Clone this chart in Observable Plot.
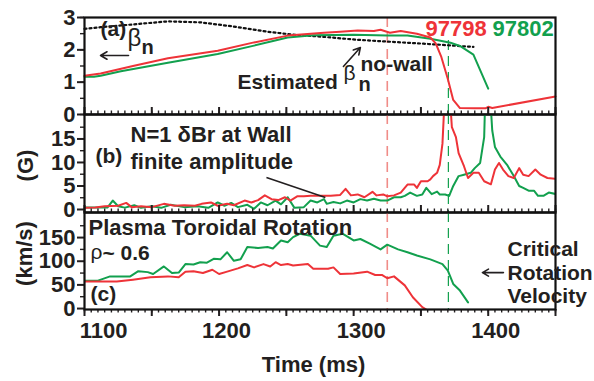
<!DOCTYPE html>
<html><head><meta charset="utf-8">
<script src="https://cdn.jsdelivr.net/npm/d3@7"></script>
<script src="https://cdn.jsdelivr.net/npm/@observablehq/plot@0.6"></script>
<style>
body{margin:0;background:#fff;}
#chart{position:relative;width:594px;height:381px;overflow:hidden;background:#fff;}
#chart svg{position:absolute;left:0;top:0;}
</style></head><body><div id="chart"></div>
<script>
// ---------- data ----------
const shots = ["97798", "97802"];
const markerTimes = [1325, 1370.4];
const xTickLabels = [1100, 1200, 1300, 1400];
const yTicksA = [0, 1, 2, 3];
const yTicksB = [0, 5, 10, 15];
const yTicksC = [0, 50, 100, 150];

// (a) beta_n
const betaRedT = [1100,1112,1136,1162,1199,1226,1251,1278,1290,1303,1315,1320,1327,1335,1347,1357,1361,1365,1370,1374,1379,1390,1398,1400,1403,1450];
const betaRedV = [1.2,1.27,1.5,1.74,1.97,2.23,2.44,2.53,2.56,2.6,2.58,2.62,2.53,2.58,2.5,2.38,2.2,1.8,1.1,0.45,0.2,0.19,0.19,0.24,0.2,0.56];
const betaGreenT = [1100,1107,1112,1127,1162,1199,1226,1251,1270,1300,1325,1340,1357,1372,1379,1389,1400];
const betaGreenV = [1.17,1.17,1.2,1.34,1.6,1.87,2.13,2.38,2.45,2.47,2.44,2.44,2.34,2.22,2.12,1.85,0.8];
const betaNoWallT = [1100,1112,1140,1162,1186,1211,1236,1255,1278,1303,1327,1352,1389];
const betaNoWallV = [2.65,2.7,2.8,2.88,2.85,2.72,2.56,2.47,2.4,2.31,2.25,2.19,2.09];

// (b) N=1 dBr at wall (G)
const brRedT = [1100,1108,1115,1125,1131,1135,1142,1150,1159,1167,1174,1182,1187,1194,1199,1206,1211,1219,1224,1229,1234,1239,1244,1249,1253,1258,1263,1268,1273,1278,1283,1290,1294,1298,1303,1308,1314,1317,1322,1325,1330,1335,1340,1345,1347,1350,1355,1357,1359,1362,1364,1366,1368,1371,1373,1376,1378,1382,1385,1389,1393,1397,1402,1405,1408,1411,1415,1419,1423,1426,1430,1435,1439,1444,1450];
const brRedV = [0.35,0.4,0.7,0.8,1.4,0.5,0.7,0.5,1.2,0.8,0.9,0.8,1.2,1.5,0.8,1.2,0.9,1.9,1.5,2.0,3.0,2.2,2.0,2.6,1.9,2.8,2.8,2.9,2.9,2.9,2.9,3.1,4.4,3.0,3.2,2.6,3.75,3.0,3.2,2.8,3.0,3.6,5.3,5.3,4.6,6.0,6.0,6.4,7.1,7.8,9.5,14,26,26,17.5,15.4,12,9.2,6.7,7.8,7.8,6.0,5.35,8.5,9.9,8.5,7.1,6.7,8.8,7.4,7.1,8.5,7.4,6.7,6.5];
const brGreenT = [1100,1110,1117,1121,1125,1130,1137,1142,1150,1157,1164,1174,1184,1192,1199,1204,1209,1214,1221,1226,1231,1236,1242,1246,1251,1256,1263,1268,1273,1278,1280,1285,1290,1295,1300,1305,1310,1315,1320,1325,1330,1335,1338,1342,1347,1351,1354,1358,1362,1364,1368,1371,1374,1378,1382,1387,1390,1394,1397,1398,1401,1403,1405,1409,1414,1419,1423,1426,1430,1434,1437,1441,1445,1450];
const brGreenV = [0.4,0.4,0.4,1.9,0.7,0.4,0.9,0.35,0.7,0.35,1.0,0.5,0.7,0.35,1.5,0.8,1.4,0.5,1.0,0.15,1.5,0.9,1.9,1.1,2.6,0.35,0.5,1.9,1.5,2.2,1.2,1.6,1.3,1.9,1.5,2.2,1.9,2.3,1.9,1.9,2.6,2.6,2.9,3.6,2.9,3.2,4.6,3.25,3.8,3.2,3.2,2.9,5.0,7.1,7.4,7.8,8.8,9.9,15.4,26,26,16.8,13.3,11.25,9.5,7.1,5.0,4.6,4.0,4.0,2.9,2.9,3.6,3.3];

// (c) plasma toroidal rotation (km/s)
const rotRedT = [1100,1124,1136,1149,1162,1170,1175,1181,1188,1195,1200,1206,1214,1221,1226,1233,1238,1242,1246,1251,1255,1266,1270,1281,1285,1290,1300,1310,1316,1321,1325,1330,1338,1344,1351,1354];
const rotRedV = [57,57,61,66,68,66,78,79,75,82,73,78,85,92,87,94,89,98,92,94,91,94,84,84,87,73,74,78,71,71,64,68,49,24,3,-2];
const rotGreenT = [1100,1110,1119,1127,1134,1140,1147,1151,1159,1165,1170,1175,1181,1186,1191,1196,1201,1206,1211,1216,1221,1229,1236,1240,1246,1251,1255,1260,1268,1275,1280,1285,1292,1300,1305,1312,1320,1325,1333,1340,1347,1357,1366,1370,1374,1379,1385];
const rotGreenV = [59,59,68,68,68,79,77,73,89,75,76,94,93,98,97,105,104,119,101,104,130,128,130,127,144,140,151,158,154,133,130,154,158,144,147,137,125,135,125,119,112,104,94,80,52,38,13];

// ---------- drawing ----------
const RED = "#ee3338", GREEN = "#12a04e", INK = "#231f20", RED_DASH = "#f08c88";
const FONT = "'Liberation Sans', Arial, Helvetica, sans-serif";
const W = 594, H = 381, ML = 84, MR = 39;
const zip = (t, v) => t.map((d, i) => ({t: d, v: v[i]}));
const plain = d => String(d);

function label(txt, o) {
  const size = o.size ?? 22;
  return Plot.text([txt], {
    text: d => d, frameAnchor: o.anchor ?? "top-left", textAnchor: o.ta ?? "start", lineAnchor: "middle",
    dx: o.dx, dy: o.dy ?? (o.base - 0.32 * size), fontSize: size, fontWeight: o.weight ?? "bold",
    fill: o.fill ?? INK, rotate: o.rotate ?? 0, fontFamily: FONT
  });
}
function xTicks(dir) {
  return [
    Plot.axisX({ticks: d3.range(1100, 1451, 5), tickSize: 3.5 * dir, tickFormat: () => "", strokeWidth: 1.4}),
    Plot.axisX({ticks: d3.range(1100, 1451, 50), tickSize: 7 * dir, tickFormat: () => "", strokeWidth: 2})
  ];
}
function yTicks(major, minor) {
  return [
    Plot.axisY({ticks: minor, tickSize: 4, tickFormat: () => "", strokeWidth: 1.4}),
    Plot.axisY({ticks: major, tickSize: 7, tickPadding: 2, strokeWidth: 2, fontSize: 22, tickFormat: plain})
  ];
}
function panel(top, bottom, yDomain, marks) {
  return Plot.plot({
    width: W, height: H, marginLeft: ML, marginRight: MR, marginTop: top, marginBottom: H - bottom,
    x: {domain: [1100, 1450], axis: null},
    y: {domain: yDomain, axis: null},
    style: {background: "transparent", overflow: "visible", fontFamily: FONT, fontSize: "22px", fontWeight: "bold", color: INK},
    marks
  });
}
const dashLines = (y1, y2g) => [
  Plot.ruleX([markerTimes[0]], {x: d => d, stroke: RED_DASH, strokeWidth: 1.6, strokeDasharray: "10,6"}),
  Plot.ruleX([markerTimes[1]], {x: d => d, y1: y2g ? y1 : undefined, y2: y2g, stroke: GREEN, strokeWidth: 1.2, strokeDasharray: "10,6"})
];

// panel (a)
const arrowsA = [{x1: 1132.7, y1: 1.825, x2: 1111.9, y2: 1.825}, {x1: 1292.4, y1: 1.485, x2: 1305, y2: 2.07}];
const pA = panel(17, 114, [0, 3], [
  ...dashLines(0, 2.4),
  Plot.line(zip(betaNoWallT, betaNoWallV), {x: "t", y: "v", stroke: "#111", strokeWidth: 2.2, strokeDasharray: "2,3"}),
  Plot.line(zip(betaGreenT, betaGreenV), {x: "t", y: "v", stroke: GREEN, strokeWidth: 2}),
  Plot.line(zip(betaRedT, betaRedV), {x: "t", y: "v", stroke: RED, strokeWidth: 2}),
  Plot.arrow(arrowsA, {x1: "x1", y1: "y1", x2: "x2", y2: "y2", stroke: INK, strokeWidth: 1.6, headLength: 7}),
  ...xTicks(-1),
  ...yTicks(yTicksA, d3.range(0, 3.01, 0.5)),
  Plot.frame({stroke: "#111", strokeWidth: 2.2}),
  label("(a)", {dx: 16, base: 18, size: 21}),
  label("β", {dx: 43, base: 28, size: 24, weight: "normal"}),
  label("n", {dx: 57, base: 36, size: 20}),
  label("Estimated", {dx: 153, base: 71, size: 21}),
  label("β", {dx: 259, base: 62, size: 21, weight: "normal"}),
  label("n", {dx: 274, base: 73, size: 20}),
  label("no-wall", {dx: 276, base: 53, size: 21}),
  label(shots[0], {dx: 341, base: 18, size: 22, fill: RED}),
  label(shots[1], {dx: 408, base: 18, size: 22, fill: GREEN})
]);

// panel (b)
const linkB = [{x1: 1235.2, y1: 6.8, x2: 1279, y2: 2.55}];
const pB = panel(114, 212, [-0.64, 20.2], [
  ...dashLines(),
  Plot.line(zip(brGreenT, brGreenV), {x: "t", y: "v", stroke: GREEN, strokeWidth: 2, clip: true}),
  Plot.line(zip(brRedT, brRedV), {x: "t", y: "v", stroke: RED, strokeWidth: 2, clip: true}),
  Plot.link(linkB, {x1: "x1", y1: "y1", x2: "x2", y2: "y2", stroke: INK, strokeWidth: 1.6}),
  ...xTicks(-1),
  ...yTicks(yTicksB, [2.5, 7.5, 12.5, 17.5]),
  Plot.frame({stroke: "#111", strokeWidth: 2.2}),
  label("N=1 δBr at Wall", {dx: 46, base: 27}),
  label("(b)", {dx: 11, base: 48, size: 21}),
  label("finite amplitude", {dx: 46, base: 54}),
  label("(G)", {dx: -59, dy: 51, size: 22, rotate: -90, ta: "middle"})
]);

// panel (c)
const arrowsC = [{x1: 1411.3, y1: 76, x2: 1395.7, y2: 76}];
const pC = panel(212, 309, [-2, 203], [
  ...dashLines(),
  Plot.line(zip(rotGreenT, rotGreenV), {x: "t", y: "v", stroke: GREEN, strokeWidth: 2, clip: true}),
  Plot.line(zip(rotRedT, rotRedV), {x: "t", y: "v", stroke: RED, strokeWidth: 2, clip: true}),
  Plot.arrow(arrowsC, {x1: "x1", y1: "y1", x2: "x2", y2: "y2", stroke: INK, strokeWidth: 1.6, headLength: 7}),
  ...xTicks(1),
  Plot.axisX({ticks: xTickLabels.slice(0, 1), tickSize: 0, tickPadding: 13, dx: 19, fontSize: 22, tickFormat: plain}),
  Plot.axisX({ticks: xTickLabels.slice(1), tickSize: 0, tickPadding: 13, dx: 7.5, fontSize: 22, tickFormat: plain}),
  ...yTicks(yTicksC, [25, 75, 125, 175]),
  Plot.frame({stroke: "#111", strokeWidth: 2.2}),
  label("Plasma Toroidal Rotation", {dx: 4, base: 22}),
  label("ρ", {dx: 6, base: 46, size: 21, weight: "normal"}),
  label("~ 0.6", {dx: 18, base: 47, size: 21}),
  label("(c)", {dx: 6, base: 88, size: 21}),
  label("Critical", {dx: 423, base: 43, size: 21}),
  label("Rotation", {dx: 423, base: 67, size: 21}),
  label("Velocity", {dx: 423, base: 90, size: 21}),
  label("(km/s)", {dx: -60, dy: 41, size: 22, rotate: -90, ta: "middle"}),
  label("Time (ms)", {anchor: "bottom", ta: "middle", dx: -6.5, base: 62})
]);

const chart = document.getElementById("chart");
chart.append(pA, pB, pC);
</script></body></html>
